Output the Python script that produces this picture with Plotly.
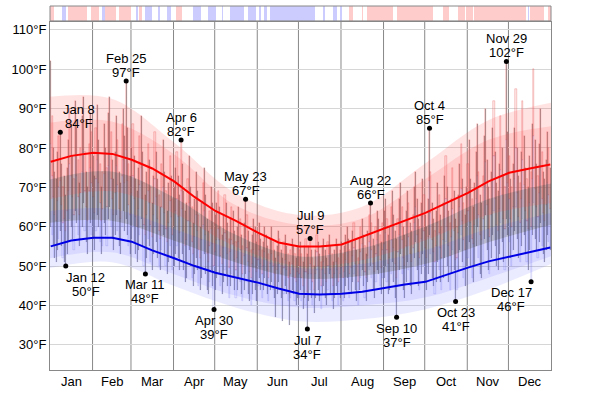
import numpy as np
import plotly.graph_objects as go

months = ["Jan", "Feb", "Mar", "Apr", "May", "Jun", "Jul", "Aug", "Sep", "Oct", "Nov", "Dec"]
month_start = [0, 31, 59, 90, 120, 151, 181, 212, 243, 273, 304, 334, 365]

high_jan = [102, 88, 80, 74, 72, 79, 83, 84, 76, 70, 73, 68, 75, 82, 90, 86, 78, 72, 92, 85, 77, 71, 80, 88, 93, 79, 74, 70, 81, 89, 84]
low_jan = [60, 58, 55, 52, 51, 54, 57, 59, 55, 52, 51, 50, 53, 56, 62, 60, 57, 54, 64, 61, 58, 55, 57, 60, 66, 59, 56, 53, 57, 61, 58]
high_feb = [78, 73, 85, 91, 82, 76, 70, 74, 86, 80, 75, 89, 93, 84, 77, 72, 79, 88, 82, 74, 71, 86, 90, 83, 97, 85, 76, 73]
low_feb = [57, 54, 59, 63, 60, 56, 53, 55, 61, 58, 55, 62, 65, 60, 57, 54, 58, 63, 59, 55, 53, 60, 64, 59, 62, 58, 55, 53]
high_mar = [80, 86, 78, 72, 69, 75, 83, 88, 79, 71, 68, 74, 81, 77, 70, 66, 73, 84, 79, 72, 68, 65, 76, 82, 74, 69, 64, 71, 78, 73, 67]
low_mar = [57, 60, 56, 53, 51, 54, 58, 62, 55, 50, 48, 52, 57, 55, 51, 49, 53, 60, 56, 52, 50, 49, 54, 58, 53, 50, 48, 51, 55, 52, 49]
high_apr = [70, 75, 79, 73, 68, 82, 76, 69, 64, 66, 72, 78, 70, 65, 61, 67, 74, 69, 63, 60, 66, 71, 75, 68, 62, 59, 64, 70, 66, 61]
low_apr = [50, 53, 55, 52, 49, 56, 53, 49, 46, 47, 51, 54, 50, 47, 45, 48, 52, 49, 45, 44, 47, 50, 53, 48, 44, 43, 46, 49, 45, 39]
high_may = [63, 66, 69, 65, 60, 58, 63, 68, 66, 61, 57, 62, 65, 64, 59, 56, 60, 65, 62, 58, 55, 61, 67, 63, 59, 56, 54, 58, 62, 60, 56]
low_may = [44, 47, 50, 48, 45, 43, 46, 49, 48, 45, 42, 45, 48, 47, 44, 42, 44, 47, 46, 43, 41, 44, 48, 46, 43, 41, 40, 43, 46, 44, 41]
high_jun = [58, 61, 57, 54, 56, 60, 58, 55, 53, 57, 60, 56, 54, 52, 55, 59, 57, 54, 52, 56, 58, 55, 53, 51, 54, 57, 55, 53, 52, 55]
low_jun = [45, 47, 44, 42, 44, 47, 45, 43, 41, 44, 46, 44, 42, 37, 43, 46, 44, 42, 36, 43, 45, 43, 41, 35, 42, 44, 43, 41, 40, 42]
high_jul = [54, 56, 53, 51, 55, 57, 53, 55, 57, 54, 52, 50, 54, 58, 56, 53, 51, 55, 57, 54, 52, 56, 58, 55, 53, 51, 54, 57, 55, 52, 54]
low_jul = [42, 44, 41, 39, 42, 40, 34, 41, 44, 42, 40, 38, 42, 49, 44, 41, 39, 43, 45, 42, 40, 44, 48, 43, 41, 39, 42, 45, 43, 40, 42]
high_aug = [56, 53, 55, 58, 60, 57, 54, 56, 59, 61, 57, 54, 52, 57, 60, 62, 58, 55, 53, 59, 63, 66, 61, 57, 55, 60, 64, 62, 58, 56, 61]
low_aug = [43, 41, 42, 45, 47, 44, 42, 43, 46, 48, 44, 41, 40, 44, 47, 49, 45, 42, 41, 46, 49, 50, 47, 44, 42, 46, 49, 48, 45, 43, 47]
high_sep = [64, 67, 62, 58, 60, 65, 69, 63, 59, 57, 62, 67, 71, 65, 60, 58, 64, 69, 66, 61, 59, 63, 70, 74, 67, 62, 60, 66, 72, 68]
low_sep = [47, 50, 46, 43, 44, 48, 51, 46, 42, 37, 45, 49, 53, 48, 44, 42, 46, 51, 49, 45, 43, 46, 52, 56, 49, 45, 44, 48, 53, 50]
high_oct = [63, 60, 67, 85, 74, 66, 62, 59, 64, 71, 68, 63, 60, 66, 73, 78, 70, 64, 61, 67, 75, 69, 62, 60, 68, 76, 81, 72, 66, 63, 70]
low_oct = [46, 44, 48, 58, 53, 47, 45, 43, 46, 51, 49, 46, 44, 47, 52, 56, 50, 46, 44, 48, 54, 49, 41, 44, 49, 54, 58, 51, 47, 45, 50]
high_nov = [76, 82, 72, 67, 65, 71, 79, 86, 74, 68, 66, 73, 83, 90, 77, 70, 67, 74, 85, 92, 79, 71, 69, 76, 88, 80, 73, 70, 102, 84]
low_nov = [52, 56, 50, 47, 46, 50, 55, 60, 52, 48, 47, 51, 57, 63, 54, 49, 48, 52, 58, 64, 55, 50, 49, 53, 61, 56, 51, 49, 62, 58]
high_dec = [78, 72, 70, 76, 85, 95, 80, 73, 71, 79, 92, 83, 75, 72, 70, 78, 74, 86, 100, 82, 76, 73, 81, 90, 79, 74, 72, 77, 84, 80, 75]
low_dec = [56, 52, 50, 54, 59, 65, 57, 52, 51, 55, 62, 58, 53, 51, 49, 54, 46, 58, 66, 57, 54, 52, 56, 61, 55, 53, 51, 54, 58, 56, 54]

# average high / low lines (sampled about twice a month)
avg_days = [0, 15, 31, 45, 59, 74, 90, 105, 120, 135, 151, 166, 181, 196, 212, 227, 243, 258, 273, 288, 304, 319, 334, 349, 364]
avg_high = [76.5, 78, 78.8, 78.5, 77, 74.8, 71.5, 67.5, 64, 61.5, 58.5, 56, 55, 55, 55.5, 57.5, 59.7, 61.5, 63.5, 66, 68.6, 71.5, 73.7, 74.8, 75.8]
avg_low = [55, 56.5, 57.2, 57.2, 56.2, 54, 52, 50, 48.3, 47, 45.8, 44.3, 43, 42.8, 43, 43.5, 44.5, 45.3, 46, 47.8, 49.6, 51.2, 52.4, 53.6, 54.7]

# percentile bands (knots)
band_days = [0, 45, 90, 135, 181, 227, 273, 319, 365]
hi_p90 = [93, 92.5, 81.5, 68.5, 63, 65, 76, 87, 91.5]
hi_p75 = [86.4, 86.7, 78.5, 65.5, 60.5, 62, 72, 82, 85.5]
hi_p25 = [72, 74, 67.5, 58, 52.5, 54.5, 60, 67, 71]
hi_p10 = [67, 69, 63.5, 55, 50, 51.5, 56.5, 63, 66]
lo_p90 = [64, 64.5, 59.5, 54, 49.5, 50.5, 54, 59.5, 63.5]
lo_p75 = [61, 61.5, 56.5, 51, 47, 47.5, 50.5, 56, 60.5]
lo_p25 = [52, 53.5, 48, 42.5, 39.5, 40, 42, 47, 52.5]
lo_p10 = [49.5, 51, 45, 39.5, 36, 36.5, 39, 44, 50.5]

mark_labels = ["Jan 8", "Jan 12", "Feb 25", "Mar 11", "Apr 6", "Apr 30", "May 23", "Jul 7", "Jul 9",
               "Aug 22", "Sep 10", "Oct 4", "Oct 23", "Nov 29", "Dec 17"]
mark_days = [7, 11, 55, 69, 95, 119, 142, 187, 189, 233, 252, 276, 295, 332, 350]
mark_vals = [84, 50, 97, 48, 82, 39, 67, 34, 57, 66, 37, 85, 41, 102, 46]
mark_above = [True, False, True, False, True, False, True, False, True, True, False, True, False, True, False]
mark_xshift = [19, 20, 0, 0, 0, 0, 0, 0, 0, 0, 0, 0, 0, 0, -20]

y_ticks = [30, 40, 50, 60, 70, 80, 90, 100, 110]

high = np.array(high_jan + high_feb + high_mar + high_apr + high_may + high_jun +
                high_jul + high_aug + high_sep + high_oct + high_nov + high_dec, dtype=float)
low = np.array(low_jan + low_feb + low_mar + low_apr + low_may + low_jun +
               low_jul + low_aug + low_sep + low_oct + low_nov + low_dec, dtype=float)
n = len(high)
x = np.arange(n) + 0.5
mid = (high + low) / 2

FONT = "Liberation Sans, Arial, sans-serif"
FS = 13
fig = go.Figure()


def band(lo, hi, color):
    fig.add_trace(go.Scatter(x=band_days, y=lo, mode="lines", line=dict(width=0, shape="spline"),
                             hoverinfo="skip", showlegend=False))
    fig.add_trace(go.Scatter(x=band_days, y=hi, mode="lines", line=dict(width=0, shape="spline"),
                             fill="tonexty", fillcolor=color, hoverinfo="skip", showlegend=False))


band(lo_p75, hi_p25, "rgba(60,60,60,0.27)")
band(hi_p10, hi_p90, "rgba(255,70,70,0.15)")
band(hi_p25, hi_p75, "rgba(255,70,70,0.15)")
band(lo_p10, lo_p90, "rgba(70,70,255,0.11)")
band(lo_p25, lo_p75, "rgba(70,70,255,0.11)")

fig.add_trace(go.Bar(x=x, y=high - mid, base=mid, width=0.8,
                     marker=dict(color="rgba(255,170,170,0.25)",
                                 line=dict(color="rgba(225,70,70,0.55)", width=0.5)),
                     hoverinfo="skip", showlegend=False))
fig.add_trace(go.Bar(x=x, y=mid - low, base=low, width=0.8,
                     marker=dict(color="rgba(200,200,255,0.15)",
                                 line=dict(color="rgba(80,80,230,0.32)", width=0.5)),
                     hoverinfo="skip", showlegend=False))
fig.add_trace(go.Bar(x=x, y=high - low, base=low, width=0.5,
                     marker=dict(color="rgba(105,105,105,0.55)", line=dict(width=0)),
                     hoverinfo="skip", showlegend=False))

fig.add_trace(go.Scatter(x=np.array(avg_days) + 0.5, y=avg_high, mode="lines",
                         line=dict(color="#ff0000", width=2), hoverinfo="skip", showlegend=False))
fig.add_trace(go.Scatter(x=np.array(avg_days) + 0.5, y=avg_low, mode="lines",
                         line=dict(color="#0000e6", width=2), hoverinfo="skip", showlegend=False))

fig.add_trace(go.Scatter(x=np.array(mark_days) + 0.5, y=mark_vals, mode="markers",
                         marker=dict(color="black", size=5), hoverinfo="skip", showlegend=False))

annotations = []
for lab, d, v, up, xs in zip(mark_labels, mark_days, mark_vals, mark_above, mark_xshift):
    s1, s2 = (23, 9) if up else (-11, -25)
    for txt, sh in ((lab, s1), (f"{v}°F", s2)):
        annotations.append(dict(x=d + 0.5, y=v, xref="x", yref="y", showarrow=False,
                                text=txt, yanchor="middle", xanchor="center", yshift=sh,
                                xshift=xs, borderpad=0,
                                font=dict(family=FONT, size=FS, color="black")))

mid_month = [(month_start[i] + month_start[i + 1]) / 2 for i in range(12)]
for mm, name in zip(mid_month, months):
    annotations.append(dict(x=mm, y=0, xref="x", yref="paper", showarrow=False, text=name,
                            yanchor="middle", yshift=-11, borderpad=0,
                            font=dict(family=FONT, size=FS, color="black")))

# top strip: warmer / colder than the normal of the day
norm = (np.interp(x, np.array(avg_days) + 0.5, avg_high) + np.interp(x, np.array(avg_days) + 0.5, avg_low)) / 2
anom = np.convolve(mid - norm, np.ones(5) / 5, mode="same")
cat = np.where(anom > 1.0, 1, np.where(anom < -1.0, -1, 0))
fig.add_trace(go.Heatmap(x=x, y=[0], z=[cat], zmin=-1, zmax=1,
                         colorscale=[[0, "#ccccff"], [0.5, "#ffffff"], [1, "#ffcccc"]],
                         showscale=False, hoverinfo="skip", xaxis="x", yaxis="y2"))

shapes = []
for ms in month_start[1:-1]:
    shapes.append(dict(type="line", xref="x", yref="paper", x0=ms, x1=ms, y0=0, y1=0.956,
                       line=dict(color="#888888", width=1), layer="below"))
shapes.append(dict(type="rect", xref="paper", yref="paper", x0=0, x1=1, y0=0.959, y1=1,
                   line=dict(color="#888888", width=1), layer="above"))

fig.update_layout(
    width=600, height=394,
    margin=dict(l=50, r=49, t=6, b=24, autoexpand=False),
    paper_bgcolor="white", plot_bgcolor="white",
    barmode="overlay", bargap=0,
    font=dict(family=FONT, size=FS, color="black"),
    xaxis=dict(range=[0, 365], showticklabels=False, showgrid=False, automargin=False,
               zeroline=False, showline=True, linecolor="#888888", mirror=True, ticks=""),
    yaxis=dict(domain=[0, 0.956], range=[23.6, 112], tickvals=y_ticks, automargin=False,
               ticktext=[f"{t}°F" for t in y_ticks], showgrid=True, gridcolor="#d6d6d6",
               zeroline=False, showline=True, linecolor="#888888", mirror=True, ticks="",
               tickfont=dict(size=FS, color="black")),
    yaxis2=dict(domain=[0.959, 1], range=[-0.5, 0.5], showticklabels=False, showgrid=False,
                zeroline=False, showline=False, fixedrange=True, automargin=False),
    annotations=annotations,
    shapes=shapes,
)

fig.write_html("out.html", config={"displayModeBar": False},
               post_script="document.body.style.margin='0';document.body.style.padding='0';")
